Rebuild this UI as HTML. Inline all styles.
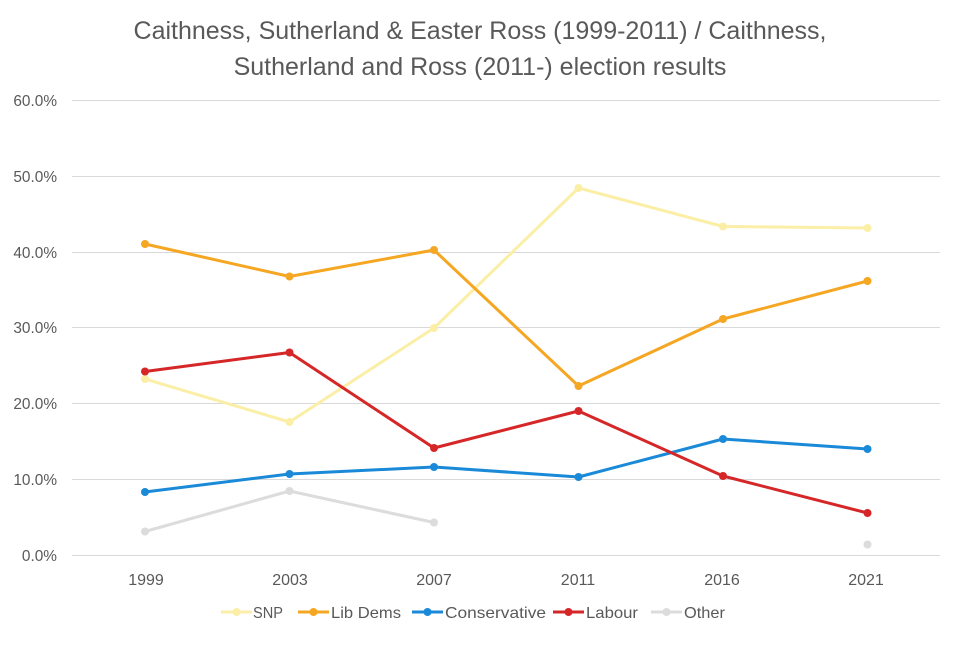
<!DOCTYPE html>
<html><head><style>body{margin:0;background:#fff}</style></head><body>
<svg width="960" height="640" xmlns="http://www.w3.org/2000/svg" font-family="Liberation Sans, sans-serif">
<rect width="960" height="640" fill="#fff"/>
<text x="480" y="39" text-anchor="middle" font-size="25" fill="#595959">Caithness, Sutherland &amp; Easter Ross (1999-2011) / Caithness,</text>
<text x="480" y="75" text-anchor="middle" font-size="25" fill="#595959">Sutherland and Ross (2011-) election results</text>
<g stroke="#d9d9d9" stroke-width="1">
<line x1="72" x2="940" y1="100.5" y2="100.5"/><line x1="72" x2="940" y1="176.5" y2="176.5"/><line x1="72" x2="940" y1="252.5" y2="252.5"/><line x1="72" x2="940" y1="327.5" y2="327.5"/><line x1="72" x2="940" y1="403.5" y2="403.5"/><line x1="72" x2="940" y1="479.5" y2="479.5"/><line x1="72" x2="940" y1="555.5" y2="555.5"/>
</g>
<g font-size="15.4" fill="#595959" text-anchor="end">
<text x="57" y="106">60.0%</text><text x="57" y="182">50.0%</text><text x="57" y="258">40.0%</text><text x="57" y="333">30.0%</text><text x="57" y="409">20.0%</text><text x="57" y="485">10.0%</text><text x="57" y="561">0.0%</text>
</g>
<g font-size="16" fill="#595959" text-anchor="middle">
<text x="146" y="585">1999</text><text x="290" y="585">2003</text><text x="434" y="585">2007</text><text x="578" y="585">2011</text><text x="722" y="585">2016</text><text x="866" y="585">2021</text>
</g>
<g fill="none" stroke-width="3" stroke-linejoin="round">
<polyline stroke="#fbeea6" points="145,379 289.5,422 434,328 578.5,188 723,226.5 867.5,228"/>
<polyline stroke="#f5a623" points="145,244 289.5,276.5 434,250 578.5,386 723,319 867.5,281"/>
<polyline stroke="#1a8ad8" points="145,492 289.5,474 434,467 578.5,477 723,439 867.5,449"/>
<polyline stroke="#d62728" points="145,371.5 289.5,352.5 434,448 578.5,411 723,476 867.5,513"/>
<polyline stroke="#dcdcdc" points="145,531.5 289.5,491 434,522.5"/>
</g>
<g fill="#fbeea6"><circle cx="145" cy="379" r="4"/><circle cx="289.5" cy="422" r="4"/><circle cx="434" cy="328" r="4"/><circle cx="578.5" cy="188" r="4"/><circle cx="723" cy="226.5" r="4"/><circle cx="867.5" cy="228" r="4"/></g>
<g fill="#f5a623"><circle cx="145" cy="244" r="4"/><circle cx="289.5" cy="276.5" r="4"/><circle cx="434" cy="250" r="4"/><circle cx="578.5" cy="386" r="4"/><circle cx="723" cy="319" r="4"/><circle cx="867.5" cy="281" r="4"/></g>
<g fill="#1a8ad8"><circle cx="145" cy="492" r="4"/><circle cx="289.5" cy="474" r="4"/><circle cx="434" cy="467" r="4"/><circle cx="578.5" cy="477" r="4"/><circle cx="723" cy="439" r="4"/><circle cx="867.5" cy="449" r="4"/></g>
<g fill="#d62728"><circle cx="145" cy="371.5" r="4"/><circle cx="289.5" cy="352.5" r="4"/><circle cx="434" cy="448" r="4"/><circle cx="578.5" cy="411" r="4"/><circle cx="723" cy="476" r="4"/><circle cx="867.5" cy="513" r="4"/></g>
<g fill="#dcdcdc"><circle cx="145" cy="531.5" r="4"/><circle cx="289.5" cy="491" r="4"/><circle cx="434" cy="522.5" r="4"/><circle cx="867.5" cy="544.5" r="4"/></g>
<g stroke-width="3">
<line x1="221" x2="252" y1="612" y2="612" stroke="#fbeea6"/><circle cx="236.5" cy="612" r="4" fill="#fbeea6"/>
<line x1="298" x2="329" y1="612" y2="612" stroke="#f5a623"/><circle cx="313.5" cy="612" r="4" fill="#f5a623"/>
<line x1="412" x2="443" y1="612" y2="612" stroke="#1a8ad8"/><circle cx="427.5" cy="612" r="4" fill="#1a8ad8"/>
<line x1="553" x2="584" y1="612" y2="612" stroke="#d62728"/><circle cx="568.5" cy="612" r="4" fill="#d62728"/>
<line x1="651" x2="682" y1="612" y2="612" stroke="#dcdcdc"/><circle cx="666.5" cy="612" r="4" fill="#dcdcdc"/>
</g>
<g font-size="16" fill="#595959">
<text x="253" y="618" textLength="30" lengthAdjust="spacingAndGlyphs">SNP</text><text x="331" y="618" textLength="70" lengthAdjust="spacingAndGlyphs">Lib Dems</text><text x="445" y="618" textLength="101" lengthAdjust="spacingAndGlyphs">Conservative</text><text x="586" y="618" textLength="52" lengthAdjust="spacingAndGlyphs">Labour</text><text x="684" y="618" textLength="41" lengthAdjust="spacingAndGlyphs">Other</text>
</g>
</svg>
</body></html>
